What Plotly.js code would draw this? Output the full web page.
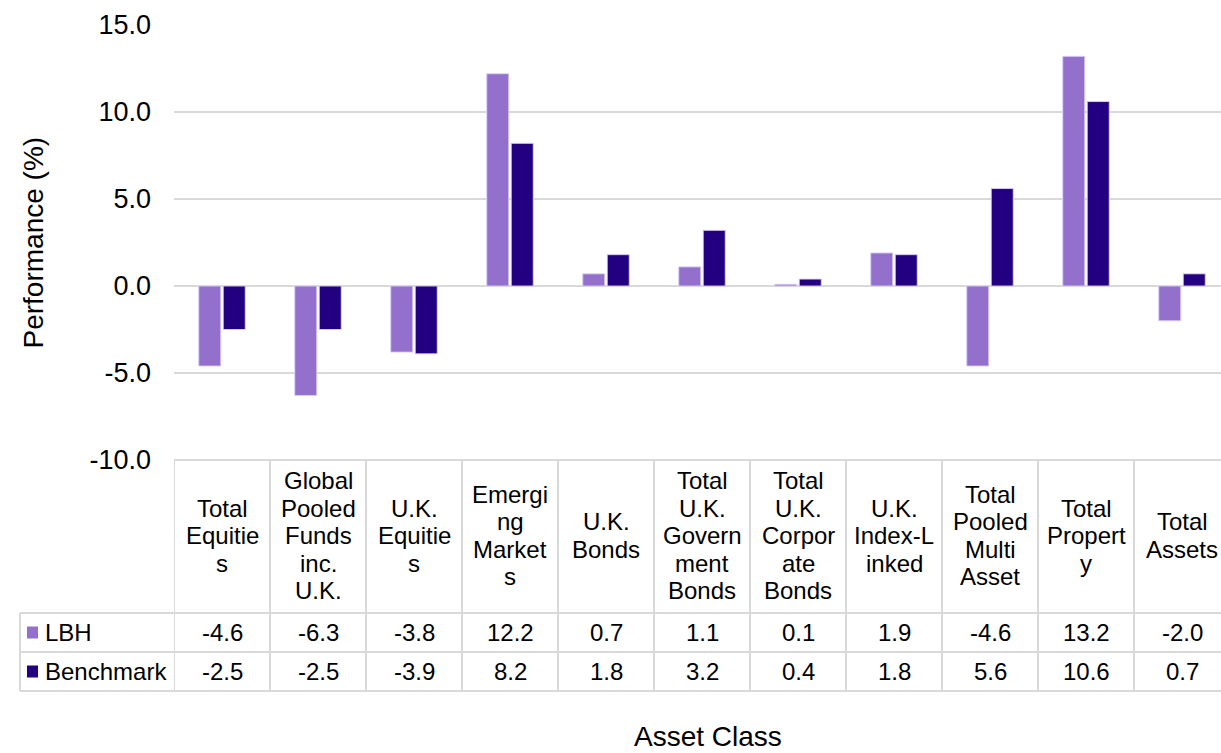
<!DOCTYPE html>
<html>
<head>
<meta charset="utf-8">
<script src="https://cdn.plot.ly/plotly-3.0.1.min.js"></script>
<style>
html, body { margin: 0; padding: 0; overflow: hidden; background: #ffffff; }
#chart { width: 1231px; height: 753px; }
</style>
</head>
<body>
<div id="chart"></div>
<script>
// ---- Data ----
const categories = ['Total Equities', 'Global Pooled Funds inc. U.K.', 'U.K. Equities', 'Emerging Markets',
  'U.K. Bonds', 'Total U.K. Government Bonds', 'Total U.K. Corporate Bonds', 'U.K. Index-Linked',
  'Total Pooled Multi Asset', 'Total Property', 'Total Assets'];
const tickLabels = [['Total', 'Equitie', 's'], ['Global', 'Pooled', 'Funds', 'inc.', 'U.K.'], ['U.K.', 'Equitie', 's'],
  ['Emergi', 'ng', 'Market', 's'], ['U.K.', 'Bonds'], ['Total', 'U.K.', 'Govern', 'ment', 'Bonds'],
  ['Total', 'U.K.', 'Corpor', 'ate', 'Bonds'], ['U.K.', 'Index-L', 'inked'], ['Total', 'Pooled', 'Multi', 'Asset'],
  ['Total', 'Propert', 'y'], ['Total', 'Assets']];
const seriesNames = ['LBH', 'Benchmark'];
const lbh = [-4.6, -6.3, -3.8, 12.2, 0.7, 1.1, 0.1, 1.9, -4.6, 13.2, -2.0];
const benchmark = [-2.5, -2.5, -3.9, 8.2, 1.8, 3.2, 0.4, 1.8, 5.6, 10.6, 0.7];
const yTicks = [-10, -5, 0, 5, 10, 15];

// ---- Layout geometry (pixels) ----
const W = 1231, H = 753;
const mL = 174, mR = 1, mT = 25, mB = 293;
const plotW = W - mL - mR, plotH = H - mT - mB;
const plotBottom = H - mB;
const px = P => (P - mL) / plotW;            // pixel x -> paper x
const py = P => (plotBottom - P) / plotH;    // pixel y -> paper y

const colors = ['#9370CC', '#220080'];
const gridCol = '#d9d9d9';
const font = 'Liberation Sans, Arial, sans-serif';

const traces = [lbh, benchmark].map((vals, k) => ({
  type: 'bar',
  name: seriesNames[k],
  x: categories,
  y: vals,
  marker: { color: colors[k], line: { color: 'rgba(220,210,245,0.9)', width: 1 } },
  hoverinfo: 'x+y+name'
}));

// Table geometry
const hdrTop = 460, hdrBot = 613, row1Bot = 652, row2Bot = 691, legLeft = 20;
const shapes = [];
const lineStyle = { color: gridCol, width: 2 };
shapes.push({ type: 'line', xref: 'paper', yref: 'paper', x0: 0, x1: 1, y0: py(hdrTop), y1: py(hdrTop), line: lineStyle });
[hdrBot, row1Bot, row2Bot].forEach(P => shapes.push({ type: 'line', xref: 'paper', yref: 'paper',
  x0: px(legLeft), x1: 1, y0: py(P), y1: py(P), line: lineStyle }));
for (let i = 0; i <= categories.length; i++) {
  shapes.push({ type: 'line', xref: 'x', yref: 'paper', x0: i - 0.5, x1: i - 0.5,
    y0: py(hdrTop), y1: py(row2Bot), line: lineStyle });
}
shapes.push({ type: 'line', xref: 'paper', yref: 'paper', x0: px(legLeft), x1: px(legLeft),
  y0: py(hdrBot), y1: py(row2Bot), line: lineStyle });
const rowCenters = [(hdrBot + row1Bot) / 2, (row1Bot + row2Bot) / 2];
rowCenters.forEach((c, k) => shapes.push({ type: 'rect', xref: 'paper', yref: 'paper',
  x0: px(27), x1: px(38), y0: py(c + 6), y1: py(c - 6), fillcolor: colors[k], line: { width: 0 } }));

const annotations = [];
const tf = { family: font, size: 24, color: '#000000' };
const hdrCenter = (hdrTop + hdrBot) / 2 - 1, lineGap = 27.5;
tickLabels.forEach((lines, i) => {
  lines.forEach((ln, j) => annotations.push({ xref: 'x', yref: 'paper', x: i,
    y: py(hdrCenter + (j - (lines.length - 1) / 2) * lineGap),
    text: ln, showarrow: false, font: tf, xanchor: 'center', yanchor: 'middle', align: 'center' }));
});
[lbh, benchmark].forEach((vals, k) => {
  vals.forEach((v, i) => annotations.push({ xref: 'x', yref: 'paper', x: i, y: py(rowCenters[k]),
    text: v.toFixed(1), showarrow: false, font: tf, xanchor: 'center', yanchor: 'middle' }));
  annotations.push({ xref: 'paper', yref: 'paper', x: px(43), y: py(rowCenters[k]), text: seriesNames[k],
    showarrow: false, font: tf, xanchor: 'left', yanchor: 'middle' });
});
annotations.push({ xref: 'paper', yref: 'paper', x: px(708), y: py(736), text: 'Asset Class',
  showarrow: false, font: { family: font, size: 28, color: '#000' }, xanchor: 'center', yanchor: 'middle' });
annotations.push({ xref: 'paper', yref: 'paper', x: px(33), y: 0.5, text: 'Performance (%)', textangle: -90,
  showarrow: false, font: { family: font, size: 28, color: '#000' }, xanchor: 'center', yanchor: 'middle' });

const layout = {
  width: W, height: H,
  margin: { l: mL, r: mR, t: mT, b: mB },
  paper_bgcolor: '#ffffff', plot_bgcolor: '#ffffff',
  showlegend: false,
  barmode: 'group', bargap: 0.49, bargroupgap: 0.1,
  font: { family: font, color: '#000' },
  xaxis: { type: 'category', showticklabels: false, showgrid: false, zeroline: false, showline: false,
    ticks: '', range: [-0.5, categories.length - 0.5], fixedrange: true },
  yaxis: { range: [-10, 15], tickvals: yTicks, ticktext: yTicks.map(v => v.toFixed(1)),
    showgrid: true, gridcolor: gridCol, gridwidth: 2, zeroline: true, zerolinecolor: gridCol, zerolinewidth: 2,
    showline: false, ticks: '', ticklabelstandoff: 22, tickfont: { family: font, size: 27, color: '#000' },
    fixedrange: true },
  shapes: shapes,
  annotations: annotations
};

Plotly.newPlot('chart', traces, layout, { displayModeBar: false, staticPlot: true });
</script>
</body>
</html>
